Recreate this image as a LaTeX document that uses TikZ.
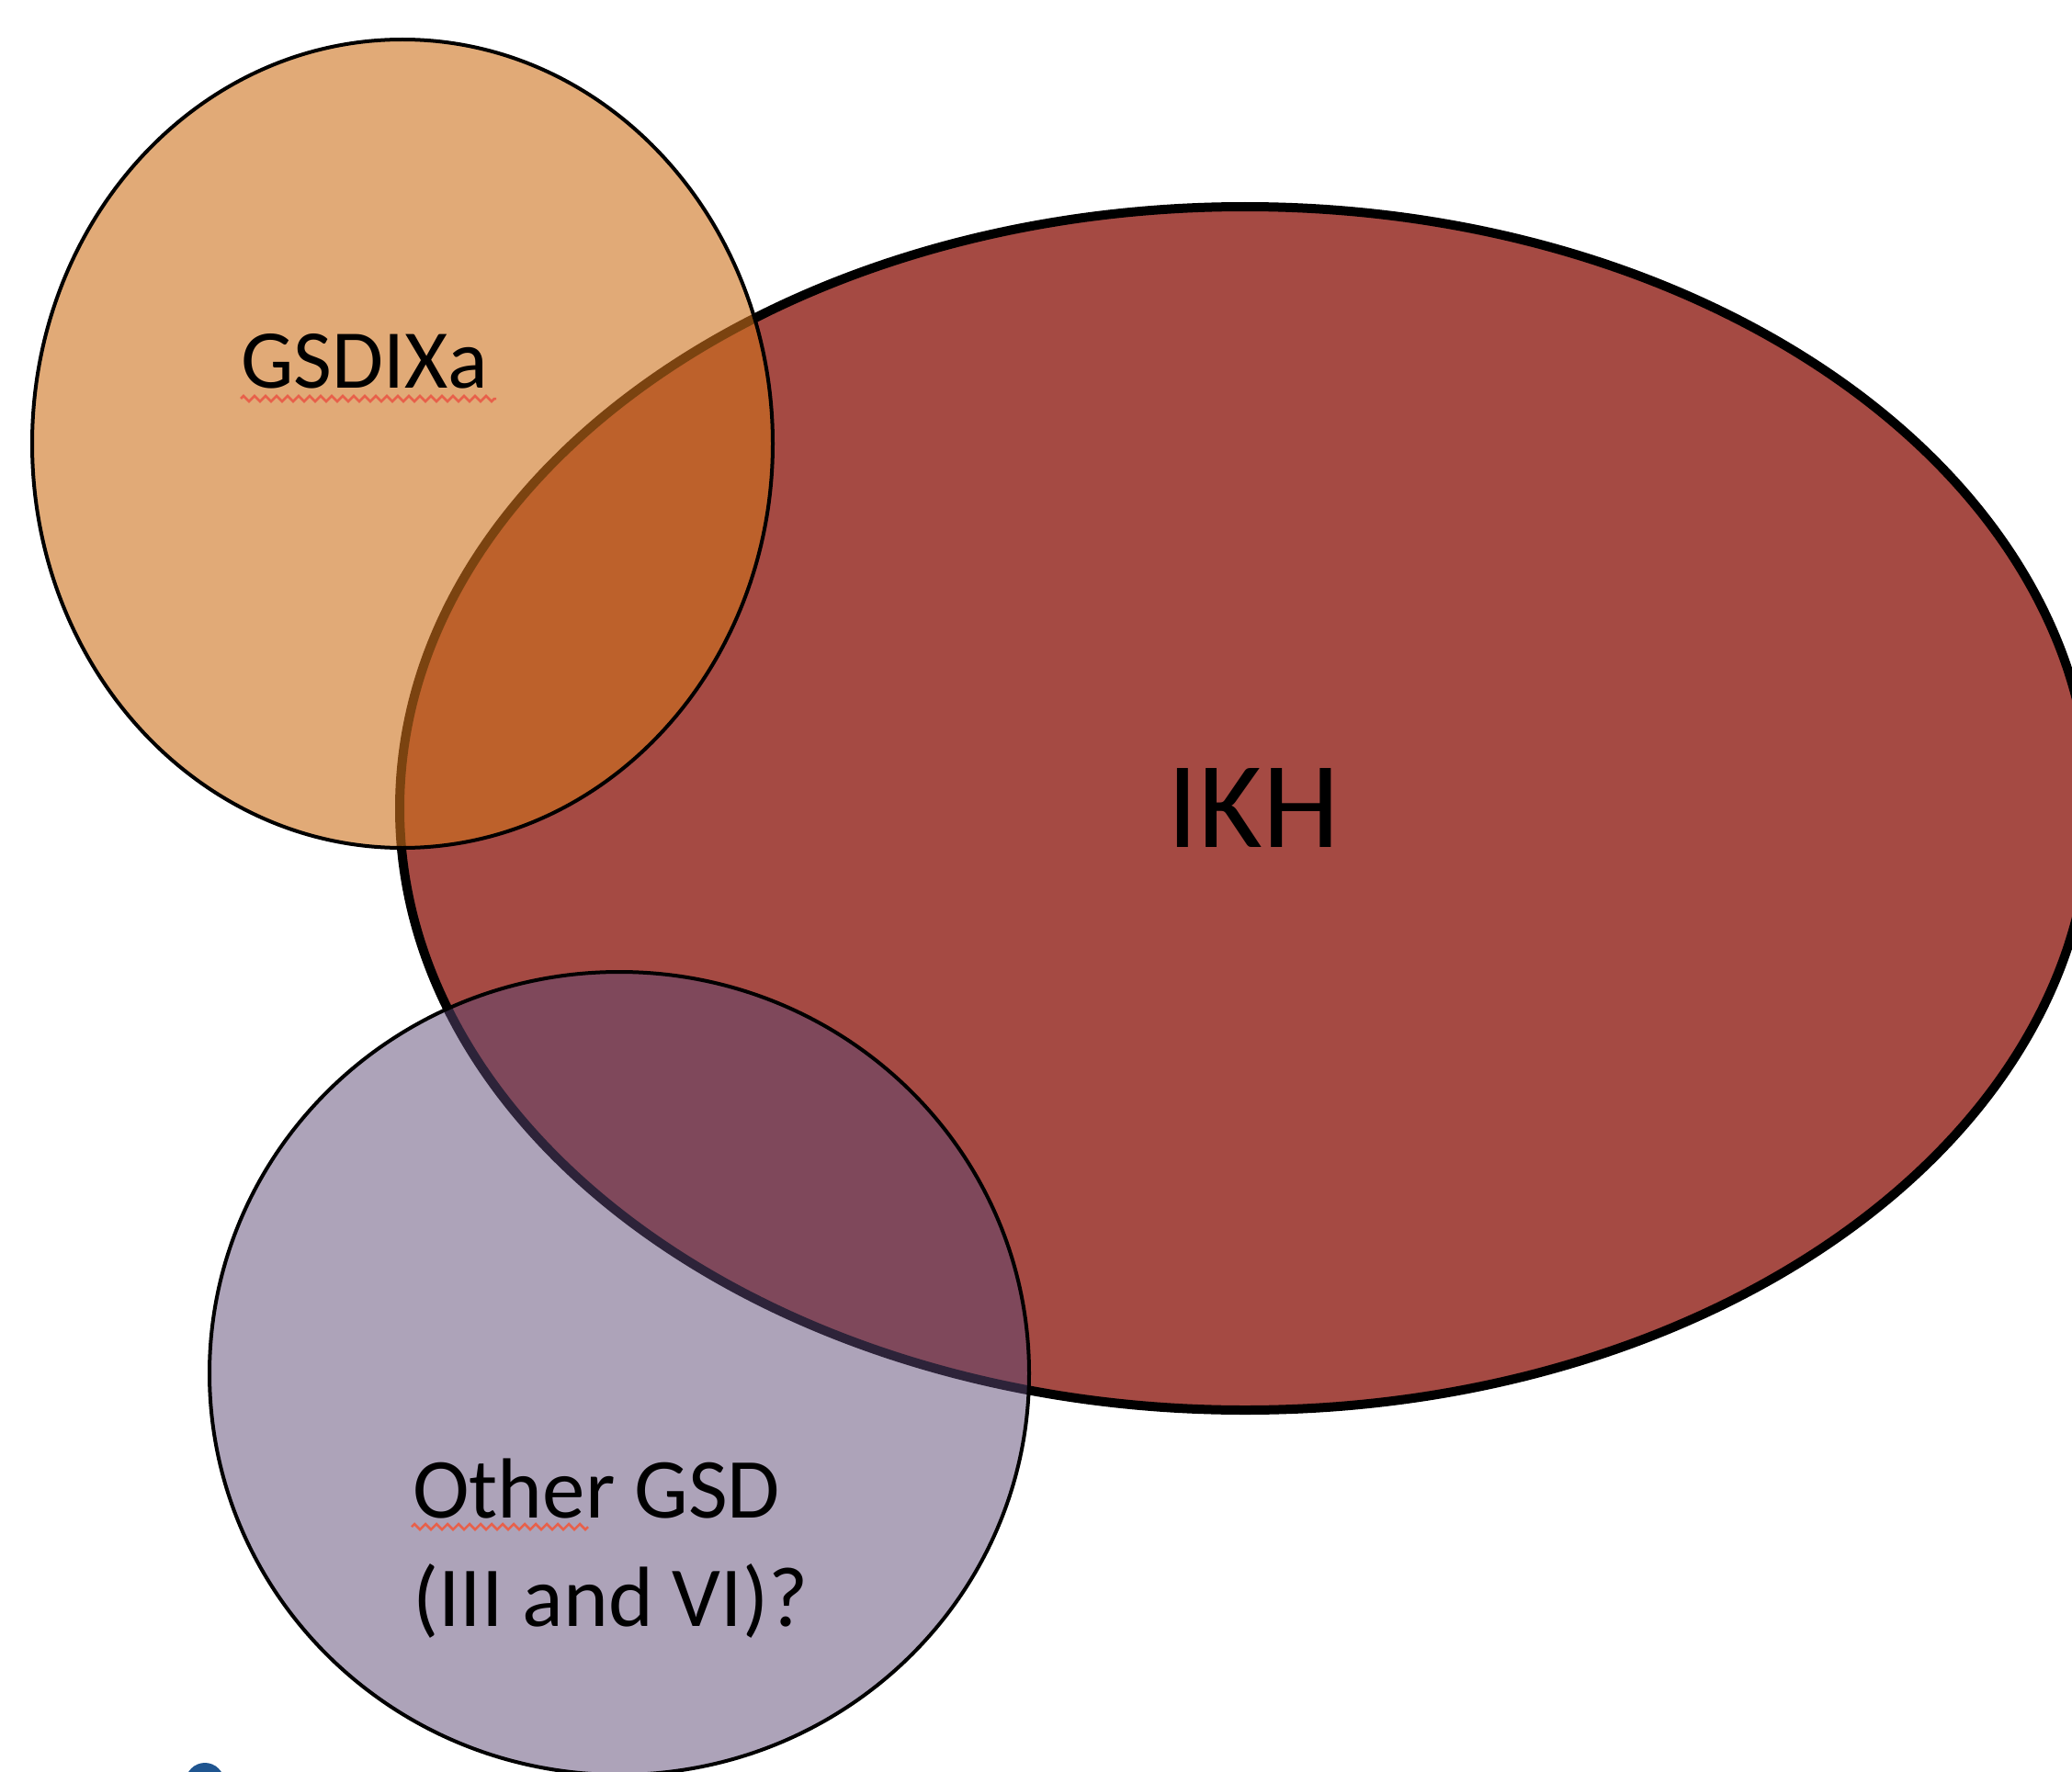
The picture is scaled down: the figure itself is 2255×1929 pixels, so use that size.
\documentclass[tikz,border=0pt]{standalone}
\usepackage{fontspec}
\setmainfont{Carlito}
\usetikzlibrary{decorations.pathmorphing}
\definecolor{ikhred}{RGB}{165,74,67}
\definecolor{gsdorange}{RGB}{205,113,28}
\definecolor{gsdpurple}{RGB}{91,71,115}
\definecolor{squig}{RGB}{232,96,74}
\definecolor{dotblue}{RGB}{31,85,144}
\tikzset{
  setshape/.style={line width=4pt, draw=black},
  lbl/.style={inner sep=0pt, text=black},
  spell/.style={draw=squig, line width=2.5pt, decorate,
    decoration={zigzag, segment length=12pt, amplitude=3pt}}
}
\begin{document}
\begin{tikzpicture}[x=1pt,y=-1pt]
\useasboundingbox (0,0) rectangle (2255,1929);
\clip (0,0) rectangle (2255,1929);
% IKH ellipse (opaque)
\coordinate (ikhc) at (1355,880);
\filldraw[fill=ikhred, draw=black, line width=10pt] (ikhc) ellipse [x radius=920pt, y radius=655pt];
% GSDIXa circle
\coordinate (gsdc) at (438,483);
\filldraw[setshape, fill=gsdorange, fill opacity=0.6] (gsdc) ellipse [x radius=403pt, y radius=440pt];
% Other GSD circle
\coordinate (othc) at (674,1495);
\filldraw[setshape, fill=gsdpurple, fill opacity=0.5] (othc) ellipse [x radius=446pt, y radius=437pt];
% labels
\node[lbl, anchor=base, font=\fontsize{91}{100}\selectfont] (gsd) at (397,422) {GSDIXa};
\coordinate (gsdsqA) at (262,434);
\coordinate (gsdsqB) at (540,434);
\draw[spell] (gsdsqA) -- (gsdsqB);
\node[lbl, anchor=base, font=\fontsize{134}{150}\selectfont] (ikh) at (1364,922) {IKH};
\node[lbl, anchor=base west, font=\fontsize{93}{110}\selectfont] (oth1) at (449,1652) {Other GSD};
\node[lbl, anchor=base west, font=\fontsize{93}{110}\selectfont] (oth2) at (449,1770) {(III and VI)?};
\coordinate (othsqA) at (448,1662);
\coordinate (othsqB) at (640,1662);
\draw[spell] (othsqA) -- (othsqB);
% small blue mark at bottom edge
\coordinate (dotc) at (223,1940);
\fill[dotblue] (dotc) circle [radius=21pt];
\end{tikzpicture}
\end{document}
